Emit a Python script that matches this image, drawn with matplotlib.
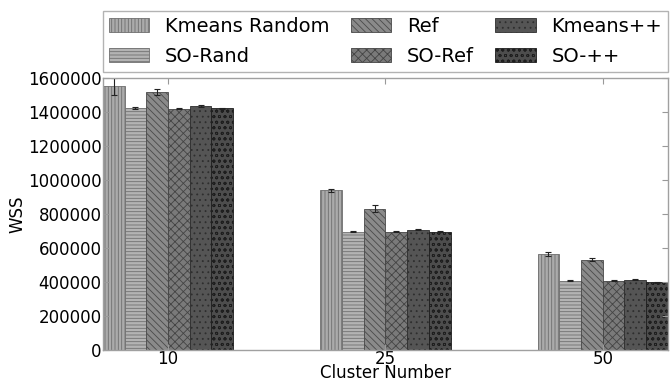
import numpy as np
import matplotlib
matplotlib.use("Agg")
import matplotlib.pyplot as plt

# WSS per clustering method at each cluster number
cluster_numbers = ["10", "25", "50"]
method_names = ["Kmeans Random", "SO-Rand", "Ref", "SO-Ref", "Kmeans++", "SO-++"]

kmeans_random = [1550000, 937000, 563000]
so_rand = [1422000, 696000, 408000]
ref = [1516000, 831000, 531000]
so_ref = [1418000, 694000, 406000]
kmeans_pp = [1431000, 706000, 412000]
so_pp = [1420000, 696000, 398000]

kmeans_random_err = [50000, 9000, 12000]
so_rand_err = [5000, 5000, 5000]
ref_err = [20000, 18000, 8000]
so_ref_err = [3000, 3000, 3000]
kmeans_pp_err = [6000, 4000, 3000]
so_pp_err = [3000, 3000, 3000]

series = [kmeans_random, so_rand, ref, so_ref, kmeans_pp, so_pp]
errors = [kmeans_random_err, so_rand_err, ref_err, so_ref_err, kmeans_pp_err, so_pp_err]

face_colors = ["#ababab", "#b3b3b3", "#8a8a8a", "#7a7a7a", "#555555", "#4d4d4d"]
hatch_colors = ["#6e6e6e", "#707070", "#4a4a4a", "#444444", "#2e2e2e", "#1e1e1e"]
hatches = ["|||||", "-----", "\\\\\\\\\\", "xxxx", "...", "ooo"]

plt.rcParams["hatch.linewidth"] = 0.6
plt.rcParams["font.family"] = "DejaVu Sans"

fig = plt.figure(figsize=(6.72, 3.82), dpi=100)
ax = fig.add_axes([0.153, 0.0838, 0.841, 0.713])

ind = np.arange(len(cluster_numbers))
width = 0.1
for i, (vals, errs) in enumerate(zip(series, errors)):
    ax.bar(ind - 0.25 + i * width, vals, width, color=face_colors[i],
           edgecolor=hatch_colors[i], linewidth=0.6, hatch=hatches[i],
           label=method_names[i],
           yerr=errs, ecolor="#222222",
           error_kw=dict(elinewidth=0.8, capsize=2, capthick=0.8))

ax.set_xlim(-0.3, 2.3)
ax.set_ylim(0, 1600000)
ax.set_yticks(np.arange(0, 1600001, 200000))
ax.ticklabel_format(axis="y", style="plain")
ax.set_xticks(ind)
ax.set_xticklabels(cluster_numbers)
ax.tick_params(direction="in", top=True, right=True, length=4,
               color="#999999", labelsize=12, pad=1)
ax.tick_params(axis="x", pad=0)
for s in ax.spines.values():
    s.set_color("#a0a0a0")
    s.set_linewidth(1.0)

ax.set_xlabel("Cluster Number", fontsize=12, labelpad=-3)
ax.set_ylabel("WSS", fontsize=12, labelpad=1)

leg = ax.legend(loc="lower left", bbox_to_anchor=(0, 1.022, 1, 0.224),
                mode="expand", ncol=3, borderaxespad=0, fontsize=14,
                labelspacing=0.55, handlelength=2.1, handletextpad=0.8,
                columnspacing=0.5, fancybox=False, borderpad=0.3)
leg.get_frame().set_edgecolor("#a0a0a0")
leg.get_frame().set_linewidth(1.0)

fig.savefig("out.png", dpi=100)
